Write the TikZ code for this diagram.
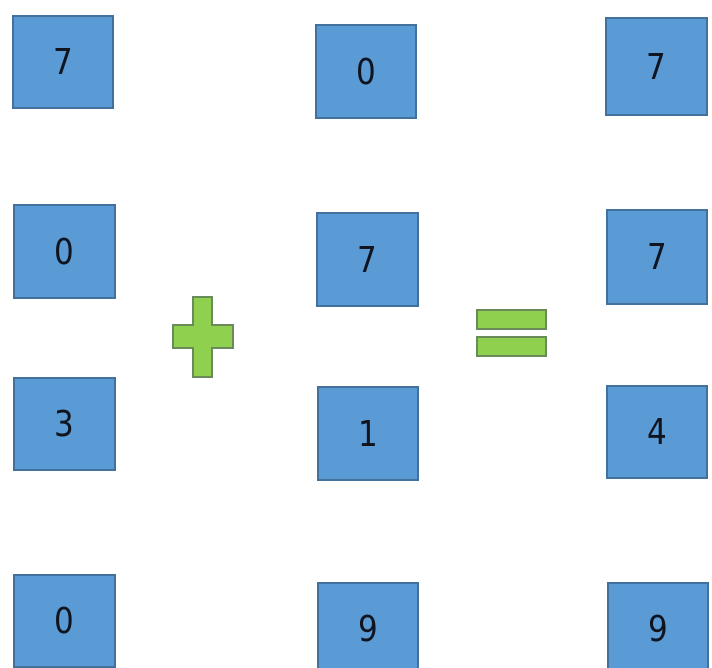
\documentclass[tikz,border=0pt]{standalone}
\usepackage{fontspec}
\setmainfont{DejaVu Sans}
\definecolor{boxfill}{HTML}{5B9BD5}
\definecolor{boxline}{HTML}{41719C}
\definecolor{grfill}{HTML}{8FD14F}
\definecolor{grline}{HTML}{6A8A5A}
\definecolor{digit}{HTML}{10141F}
\tikzset{
  numbox/.style={fill=boxfill, draw=boxline, line width=1.2pt},
  sym/.style={fill=grfill, draw=grline, line width=1.2pt},
  dig/.style={text=digit, font=\fontsize{31}{31}\selectfont, inner sep=0pt}
}
\newcommand{\dg}[1]{\scalebox{1}[1.15]{#1}}
\begin{document}
\begin{tikzpicture}[x=1pt,y=-1pt]
\useasboundingbox (0,0) rectangle (712,668);
% column 1
\draw[numbox] (13,16) rectangle (113,108) node[midway,dig] (a1) {\dg{7}};
\draw[numbox] (14,205) rectangle (115,298) node[midway,dig] (a2) {\dg{0}};
\draw[numbox] (14,378) rectangle (115,470) node[midway,dig] (a3) {\dg{3}};
\draw[numbox] (14,575) rectangle (115,667) node[midway,dig] (a4) {\dg{0}};
% column 2
\draw[numbox] (316,25) rectangle (416,118) node[midway,dig] (b1) {\dg{0}};
\draw[numbox] (317,213) rectangle (418,306) node[midway,dig] (b2) {\dg{7}};
\draw[numbox] (318,387) rectangle (418,480) node[midway,dig] (b3) {\dg{1}};
\draw[numbox] (318,583) rectangle (418,675) node[midway,dig] (b4) {\dg{9}};
% column 3
\draw[numbox] (606,18) rectangle (707,115) node[midway,dig] (c1) {\dg{7}};
\draw[numbox] (607,210) rectangle (707,304) node[midway,dig] (c2) {\dg{7}};
\draw[numbox] (607,386) rectangle (707,478) node[midway,dig] (c3) {\dg{4}};
\draw[numbox] (608,583) rectangle (708,675) node[midway,dig] (c4) {\dg{9}};
% plus
\draw[sym] (193,297) -- (212,297) -- (212,325) -- (233,325) -- (233,348) -- (212,348)
  -- (212,377) -- (193,377) -- (193,348) -- (173,348) -- (173,325) -- (193,325) -- cycle;
% equals
\draw[sym] (477,310) rectangle (546,329);
\draw[sym] (477,337) rectangle (546,356);
\end{tikzpicture}
\end{document}
